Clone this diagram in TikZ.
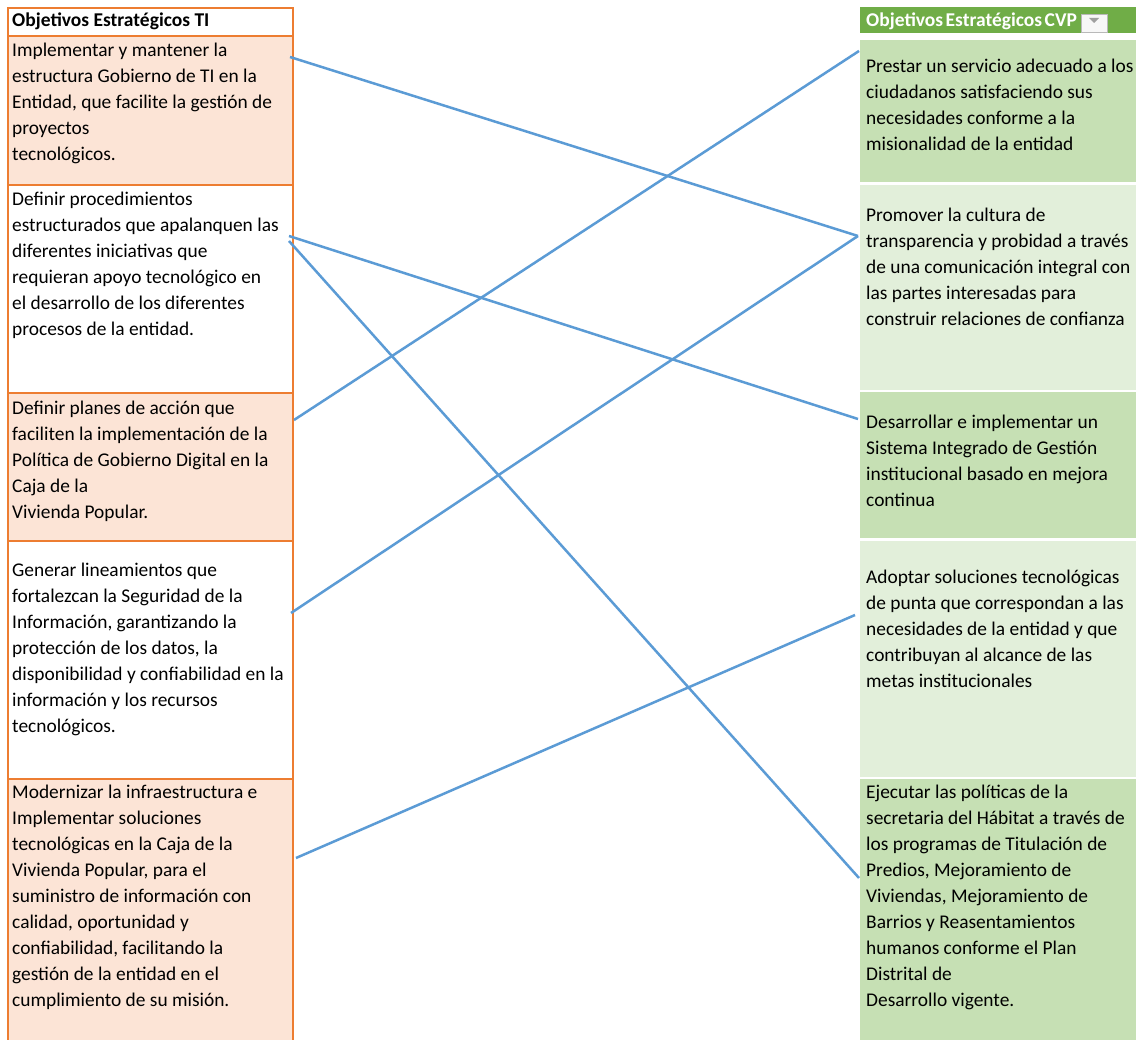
\documentclass[tikz,border=0pt]{standalone}
\usepackage{fontspec}
\setmainfont{Carlito}
\definecolor{orangeB}{HTML}{ED7D31}
\definecolor{orangeF}{HTML}{FCE4D6}
\definecolor{greenH}{HTML}{70AD47}
\definecolor{greenD}{HTML}{C6E0B4}
\definecolor{greenL}{HTML}{E2EFDA}
\definecolor{lineB}{HTML}{5B9BD5}
\begin{document}
\begin{tikzpicture}[x=1pt,y=-1pt,
  lbox/.style={draw=orangeB, line width=2pt, rectangle, inner sep=0, anchor=north west, minimum width=285},
  rbox/.style={rectangle, inner sep=0, anchor=north west, minimum width=290},
  txt/.style={anchor=north west, inner sep=0, align=left, font=\fontsize{19.4}{26}\selectfont},
  head/.style={anchor=base west, inner sep=0, font=\fontsize{19.5}{22}\selectfont\bfseries},
  link/.style={draw=lineB, line width=2.5pt}]
\useasboundingbox (0,0) rectangle (1136,1040);
\clip (0,0) rectangle (1136,1040);
\fill[white] (0,0) rectangle (1136,1040);
% left column boxes
\node[lbox, fill=white, minimum height=28] (LH) at (7,7) {};
\node[lbox, fill=orangeF, minimum height=149] (L1) at (7,35) {};
\node[lbox, fill=white, minimum height=208] (L2) at (7,184) {};
\node[lbox, fill=orangeF, minimum height=148] (L3) at (7,392) {};
\node[lbox, fill=white, minimum height=238] (L4) at (7,540) {};
\node[lbox, fill=orangeF, minimum height=280] (L5) at (7,778) {};
% right column boxes
\node[rbox, fill=greenH, minimum height=26] (RH) at (860,7) {};
\node[rbox, fill=greenD, minimum height=142] (R1) at (860,40) {};
\node[rbox, fill=greenL, minimum height=205] (R2) at (860,185) {};
\node[rbox, fill=greenD, minimum height=146] (R3) at (860,392) {};
\node[rbox, fill=greenL, minimum height=236] (R4) at (860,541) {};
\node[rbox, fill=greenD, minimum height=280] (R5) at (860,779) {};
% dropdown button
\node[anchor=north west, inner sep=0, minimum width=26, minimum height=18, draw=gray!55, fill=gray!6, line width=0.8pt] (btn) at (1081,14) {};
\fill[gray!75] (1089,18) -- (1099,18) -- (1094,23) -- cycle;
% headers
\node[head] (tLH) at (12,27) {Objetivos Estratégicos TI};
\node[head, text=white] (tRH) at (866,27) {{\spaceskip=2.5pt Objetivos Estratégicos CVP}};
% left texts
\node[txt] (tL1) at (12,40) {\rule{0pt}{16pt}Implementar y mantener la\\estructura Gobierno de TI en la\\Entidad, que facilite la gestión de\\proyectos\\tecnológicos.};
\node[txt] (tL2) at (12,189) {\rule{0pt}{16pt}Definir procedimientos\\estructurados que apalanquen las\\diferentes iniciativas que\\requieran apoyo tecnológico en\\el desarrollo de los diferentes\\procesos de la entidad.};
\node[txt] (tL3) at (12,398) {\rule{0pt}{16pt}Definir planes de acción que\\faciliten la implementación de la\\Política de Gobierno Digital en la\\Caja de la\\Vivienda Popular.};
\node[txt] (tL4) at (12,560) {\rule{0pt}{16pt}Generar lineamientos que\\fortalezcan la Seguridad de la\\Información, garantizando la\\protección de los datos, la\\disponibilidad y confiabilidad en la\\información y los recursos\\tecnológicos.};
\node[txt] (tL5) at (12,782) {\rule{0pt}{16pt}Modernizar la infraestructura e\\Implementar soluciones\\tecnológicas en la Caja de la\\Vivienda Popular, para el\\suministro de información con\\calidad, oportunidad y\\confiabilidad, facilitando la\\gestión de la entidad en el\\cumplimiento de su misión.};
% right texts
\node[txt] (tR1) at (866,56) {\rule{0pt}{16pt}Prestar un servicio adecuado a los\\ciudadanos satisfaciendo sus\\necesidades conforme a la\\misionalidad de la entidad};
\node[txt] (tR2) at (866,205) {\rule{0pt}{16pt}Promover la cultura de\\transparencia y probidad a través\\de una comunicación integral con\\las partes interesadas para\\construir relaciones de confianza};
\node[txt] (tR3) at (866,412) {\rule{0pt}{16pt}Desarrollar e implementar un\\Sistema Integrado de Gestión\\institucional basado en mejora\\continua};
\node[txt] (tR4) at (866,567) {\rule{0pt}{16pt}Adoptar soluciones tecnológicas\\de punta que correspondan a las\\necesidades de la entidad y que\\contribuyan al alcance de las\\metas institucionales};
\node[txt] (tR5) at (866,782) {\rule{0pt}{16pt}Ejecutar las políticas de la\\secretaria del Hábitat a través de\\los programas de Titulación de\\Predios, Mejoramiento de\\Viviendas, Mejoramiento de\\Barrios y Reasentamientos\\humanos conforme el Plan\\Distrital de\\Desarrollo vigente.};
% connector ports
\coordinate (pL1) at (290,57);
\coordinate (pL2a) at (289,236);
\coordinate (pL2b) at (289,241);
\coordinate (pL3) at (294,420);
\coordinate (pL4) at (291,613);
\coordinate (pL5) at (296,858);
\coordinate (pR1) at (859,51);
\coordinate (pR2) at (858,236);
\coordinate (pR3) at (858,419);
\coordinate (pR4) at (855,615);
\coordinate (pR5) at (859,878);
% connectors
\draw[link] (pL1) -- (pR2);
\draw[link] (pL2a) -- (pR3);
\draw[link] (pL2b) -- (pR5);
\draw[link] (pL3) -- (pR1);
\draw[link] (pL4) -- (pR2);
\draw[link] (pL5) -- (pR4);
\end{tikzpicture}
\end{document}
